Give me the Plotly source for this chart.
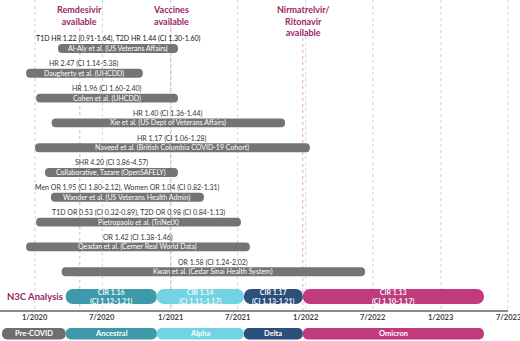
import plotly.graph_objects as go
import pandas as pd

# ---------------- data ----------------
studies = [
    "Al-Aly et al. (US Veterans Affairs)",
    "Daugherty et al. (UHCDD)",
    "Cohen et al. (UHCDD)",
    "Xie et al. (US Dept of Veterans Affairs)",
    "Naveed et al. (British Columbia COVID-19 Cohort)",
    "Collaborative, Tazare (OpenSAFELY)",
    "Wander et al. (US Veterans Health Admin)",
    "Pietropaolo et al. (TriNetX)",
    "Qeadan et al. (Cerner Real World Data)",
    "Kwan et al. (Cedar Sinai Health System)",
]
study_results = [
    "T1D HR 1.22 (0.91-1.64), T2D HR 1.44 (CI 1.30-1.60)",
    "HR 2.47 (CI 1.14-5.38)",
    "HR 1.96 (CI 1.60-2.40)",
    "HR 1.40 (CI 1.36-1.44)",
    "HR 1.17 (CI 1.06-1.28)",
    "SHR 4.20 (CI 3.86-4.57)",
    "Men OR 1.95 (CI 1.80-2.12), Women OR 1.04 (CI 0.82-1.31)",
    "T1D OR 0.53 (CI 0.32-0.89), T2D OR 0.98 (CI 0.84-1.13)",
    "OR 1.42 (CI 1.38-1.46)",
    "OR 1.58 (CI 1.24-2.02)",
]
study_start = ["2020-03-03", "2019-12-08", "2020-01-04", "2020-02-15", "2020-01-01",
               "2020-01-28", "2020-02-13", "2020-01-04", "2019-12-08", "2020-03-13"]
study_end = ["2021-01-21", "2020-10-18", "2021-01-21", "2021-11-06", "2022-01-12",
             "2021-01-21", "2021-04-01", "2021-07-10", "2021-08-03", "2022-06-10"]

variants = ["Pre-COVID", "Ancestral", "Alpha", "Delta", "Omicron"]
variant_start = ["2019-10-04", "2020-03-24", "2020-11-25", "2021-07-18", "2021-12-24"]
variant_end = ["2020-03-24", "2020-11-25", "2021-07-18", "2021-12-24", "2023-04-27"]
variant_colors = ["#6e6e6e", "#3e9aaa", "#72d3e2", "#2d4f7c", "#c03a7e"]
n3c_cir = [None, "CIR 1.16", "CIR 1.14", "CIR 1.17", "CIR 1.13"]
n3c_ci = [None, "(CI 1.12-1.21)", "(CI 1.11-1.17)", "(CI 1.13-1.21)", "(CI 1.10-1.17)"]

events = ["Remdesivir<br>available", "Vaccines<br>available", "Nirmatrelvir/<br>Ritonavir<br>available"]
event_dates = ["2020-05-01", "2021-01-02", "2021-12-24"]

tick_dates = ["2020-01-01", "2020-07-01", "2021-01-01", "2021-07-01",
              "2022-01-01", "2022-07-01", "2023-01-01", "2023-07-01"]
tick_labels = ["1/2020", "7/2020", "1/2021", "7/2021", "1/2022", "7/2022", "1/2023", "7/2023"]

# ---------------- layout helpers ----------------
W, H = 520, 341
FONT = "Lato"
px_per_day = 473 / 1277
origin = pd.Timestamp("2020-01-01")
x_range = [(origin - pd.Timedelta(days=35 / px_per_day)).isoformat(),
           (origin + pd.Timedelta(days=(W - 35) / px_per_day)).isoformat()]
row_px, row0_px = 24.8, 48.5
y_top = -row0_px / row_px
y_bot = (H - row0_px) / row_px


def pix_to_y(p):
    return (p - row0_px) / row_px


def ms(a, b):
    return (pd.Timestamp(b) - pd.Timestamp(a)).total_seconds() * 1000


def mid(a, b):
    ta, tb = pd.Timestamp(a), pd.Timestamp(b)
    return (ta + (tb - ta) / 2).isoformat()


n_rows = len(studies)
n3c_row = n_rows
var_row = n_rows + 1.5

fig = go.Figure()

# study bars
fig.add_trace(go.Bar(
    orientation="h",
    y=list(range(n_rows)),
    base=study_start,
    x=[ms(s, e) for s, e in zip(study_start, study_end)],
    width=0.36,
    marker=dict(color="#747474", line=dict(width=0)),
    hoverinfo="skip",
))

# N3C bars
fig.add_trace(go.Bar(
    orientation="h",
    y=[n3c_row] * (len(variants) - 1),
    base=variant_start[1:],
    x=[ms(s, e) for s, e in zip(variant_start[1:], variant_end[1:])],
    width=0.6,
    marker=dict(color=variant_colors[1:], line=dict(width=0)),
    hoverinfo="skip",
))

# variant bars
fig.add_trace(go.Bar(
    orientation="h",
    y=[var_row] * len(variants),
    base=variant_start,
    x=[ms(s, e) for s, e in zip(variant_start, variant_end)],
    width=0.46,
    marker=dict(color=variant_colors, line=dict(width=0)),
    hoverinfo="skip",
))

shapes = []
ann = []

axis_y = pix_to_y(311)
# gridlines
for d in tick_dates:
    shapes.append(dict(type="line", xref="x", yref="y", x0=d, x1=d, y0=y_top, y1=axis_y,
                       line=dict(color="#d2d2d2", width=1, dash="dot"), layer="below"))
# event lines + labels
for name, d in zip(events, event_dates):
    nlines = name.count("<br>") + 1
    shapes.append(dict(type="line", xref="x", yref="y", x0=d, x1=d,
                       y0=pix_to_y(2 + nlines * 10), y1=axis_y,
                       line=dict(color="#e7a6c6", width=1, dash="dot"), layer="below"))
    ann.append(dict(x=d, y=pix_to_y(2), xref="x", yref="y", text="<b>" + name + "</b>",
                    showarrow=False, yanchor="top", xanchor="center",
                    font=dict(family=FONT, size=9, color="#9b2766")))
# axis line
shapes.append(dict(type="line", xref="x", yref="y", x0=x_range[0], x1=tick_dates[-1],
                   y0=axis_y, y1=axis_y, line=dict(color="#8a8a8a", width=2)))
# tick labels
for d, t in zip(tick_dates, tick_labels):
    ann.append(dict(x=d, y=pix_to_y(317), xref="x", yref="y", text="<b>" + t + "</b>",
                    showarrow=False, xanchor="center",
                    font=dict(family=FONT, size=7.5, color="#404040")))

# study labels
for i, (s, e) in enumerate(zip(study_start, study_end)):
    m = mid(s, e)
    ann.append(dict(x=m, y=i, xref="x", yref="y", text=studies[i], showarrow=False,
                    xanchor="center",
                    font=dict(family=FONT, size=7, color="white")))
    ann.append(dict(x=m, y=i - 0.39, xref="x", yref="y", text=study_results[i], showarrow=False,
                    xanchor="center",
                    font=dict(family=FONT, size=7,
                              color="#111111" if i == 0 else "#333333")))

# N3C labels
ann.append(dict(x=35 / W, y=n3c_row, xref="paper", yref="y", text="<b>N3C Analysis</b>",
                showarrow=False, xanchor="center",
                font=dict(family=FONT, size=9.5, color="#9b2766")))
for k in range(1, len(variants)):
    m = mid(variant_start[k], variant_end[k])
    ann.append(dict(x=m, y=n3c_row, xref="x", yref="y",
                    text="<b>" + n3c_cir[k] + "<br>" + n3c_ci[k] + "</b>", showarrow=False,
                    xanchor="center",
                    font=dict(family=FONT, size=7, color="#eef8fa")))
for k in range(len(variants)):
    m = mid(variant_start[k], variant_end[k])
    ann.append(dict(x=m, y=var_row, xref="x", yref="y", text="<b>" + variants[k] + "</b>",
                    showarrow=False, xanchor="center",
                    font=dict(family=FONT, size=7.5, color="white")))

fig.update_layout(
    width=W, height=H,
    margin=dict(l=0, r=0, t=0, b=0),
    paper_bgcolor="white", plot_bgcolor="white",
    barmode="overlay",
    barcornerradius="50%",
    showlegend=False,
    xaxis=dict(type="date", range=x_range, visible=False, fixedrange=True),
    yaxis=dict(range=[y_bot, y_top], visible=False, fixedrange=True),
    shapes=shapes,
    annotations=ann,
    font=dict(family=FONT),
)

fig.write_html("out.html")
